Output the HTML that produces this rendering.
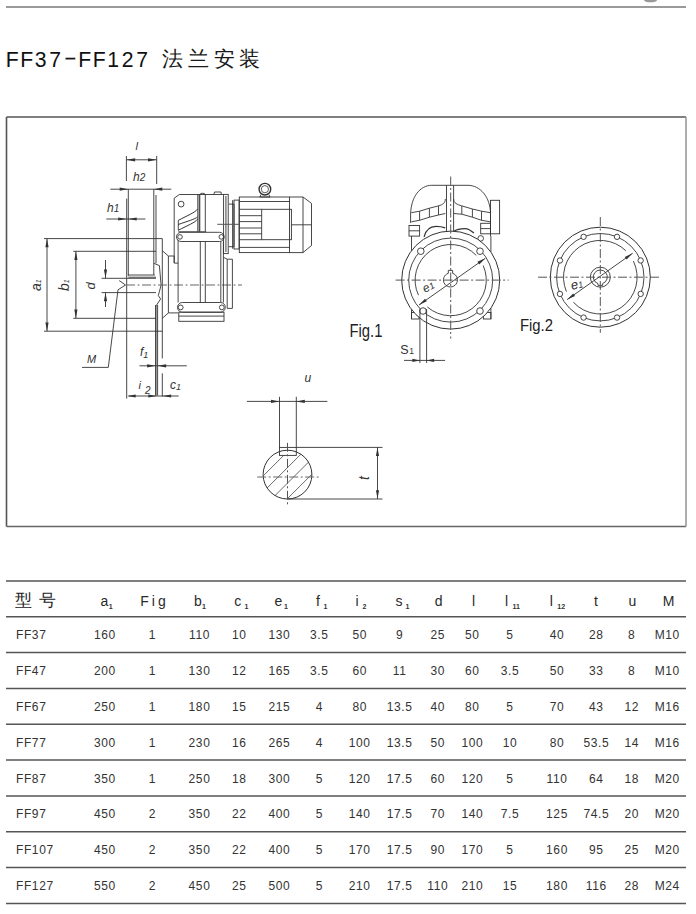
<!DOCTYPE html>
<html><head><meta charset="utf-8"><style>
html,body{margin:0;padding:0;background:#fff;width:696px;height:914px;overflow:hidden;}
svg{display:block;}
</style></head><body>
<svg width="696" height="914" viewBox="0 0 696 914">
<line x1="6" y1="7" x2="686" y2="7" stroke="#9a9a9a" stroke-width="1.8" />
<ellipse cx="650.5" cy="0" rx="6.5" ry="2.3" fill="#999"/>
<text x="5.8" y="66.8" font-family="Liberation Sans" font-size="21.2" fill="#111" text-anchor="start" >F</text>
<text x="20.3" y="66.8" font-family="Liberation Sans" font-size="21.2" fill="#111" text-anchor="start" >F</text>
<text x="34.800000000000004" y="66.8" font-family="Liberation Sans" font-size="21.2" fill="#111" text-anchor="start" >3</text>
<text x="49.300000000000004" y="66.8" font-family="Liberation Sans" font-size="21.2" fill="#111" text-anchor="start" >7</text>
<line x1="65.5" y1="58.6" x2="75.3" y2="58.6" stroke="#1a1a1a" stroke-width="1.8" />
<text x="78.3" y="66.8" font-family="Liberation Sans" font-size="21.2" fill="#111" text-anchor="start" >F</text>
<text x="92.8" y="66.8" font-family="Liberation Sans" font-size="21.2" fill="#111" text-anchor="start" >F</text>
<text x="107.3" y="66.8" font-family="Liberation Sans" font-size="21.2" fill="#111" text-anchor="start" >1</text>
<text x="121.8" y="66.8" font-family="Liberation Sans" font-size="21.2" fill="#111" text-anchor="start" >2</text>
<text x="136.29999999999998" y="66.8" font-family="Liberation Sans" font-size="21.2" fill="#111" text-anchor="start" >7</text>
<text x="162.1" y="66" font-family="Liberation Sans" font-size="21" fill="#1a1a1a" text-anchor="start" >法</text>
<text x="187.8" y="66" font-family="Liberation Sans" font-size="21" fill="#1a1a1a" text-anchor="start" >兰</text>
<text x="213.5" y="66" font-family="Liberation Sans" font-size="21" fill="#1a1a1a" text-anchor="start" >安</text>
<text x="239.2" y="66" font-family="Liberation Sans" font-size="21" fill="#1a1a1a" text-anchor="start" >装</text>
<line x1="6.5" y1="117" x2="686" y2="117" stroke="#555" stroke-width="1.6" />
<line x1="6.5" y1="117" x2="6.5" y2="526.5" stroke="#555" stroke-width="1.6" />
<line x1="6.5" y1="526.5" x2="686" y2="526.5" stroke="#666" stroke-width="1.6" />
<line x1="686" y1="117" x2="686" y2="526.5" stroke="#999" stroke-width="1.6" />
<text x="135.5" y="149.5" font-family="Liberation Sans" font-size="11" font-style="italic" fill="#333">l</text>
<line x1="126.4" y1="159.8" x2="156.7" y2="159.8" stroke="#333" stroke-width="0.9" />
<polygon points="126.60,159.80 135.10,158.20 135.10,161.40" fill="#333"/>
<polygon points="156.50,159.80 148.00,161.40 148.00,158.20" fill="#333"/>
<line x1="126.4" y1="156" x2="126.4" y2="181" stroke="#333" stroke-width="0.9" />
<line x1="156.7" y1="156" x2="156.7" y2="184" stroke="#333" stroke-width="0.9" />
<text x="133" y="180.5" font-family="Liberation Sans" font-size="12" font-style="italic" fill="#333">h<tspan font-size="10">2</tspan></text>
<line x1="110.3" y1="189.2" x2="171.3" y2="189.2" stroke="#333" stroke-width="0.9" />
<polygon points="128.20,189.20 119.70,190.80 119.70,187.60" fill="#333"/>
<polygon points="153.80,189.20 162.30,187.60 162.30,190.80" fill="#333"/>
<text x="107" y="211.5" font-family="Liberation Sans" font-size="12" font-style="italic" fill="#333">h<tspan font-size="10">1</tspan></text>
<line x1="106.3" y1="219" x2="145.4" y2="219" stroke="#333" stroke-width="0.9" />
<polygon points="126.70,219.00 118.20,220.60 118.20,217.40" fill="#333"/>
<polygon points="128.20,219.00 136.70,217.40 136.70,220.60" fill="#333"/>
<line x1="126.7" y1="198.6" x2="126.7" y2="398.6" stroke="#333" stroke-width="0.9" />
<line x1="128.3" y1="189.2" x2="128.3" y2="276" stroke="#333" stroke-width="0.9" />
<line x1="128.3" y1="275" x2="154.8" y2="275" stroke="#333" stroke-width="0.9" />
<line x1="128.3" y1="277.2" x2="156" y2="277.2" stroke="#333" stroke-width="0.9" />
<line x1="153.8" y1="189.2" x2="153.8" y2="275" stroke="#333" stroke-width="0.9" />
<line x1="156.0" y1="195" x2="156.0" y2="263.3" stroke="#333" stroke-width="0.9" />
<path d="M153.8,263.3 L159.4,265.6 L161.1,285.2 L158.3,295.5 L160.6,299 L156,305.9 L156,395.6" stroke="#333" stroke-width="0.9" fill="none" />
<line x1="155.6" y1="305" x2="155.6" y2="395.6" stroke="#333" stroke-width="0.9" />
<line x1="157.6" y1="305" x2="157.6" y2="395.6" stroke="#333" stroke-width="0.9" />
<line x1="162.3" y1="238.6" x2="162.3" y2="358.4" stroke="#333" stroke-width="0.9" />
<line x1="162.3" y1="373.4" x2="162.3" y2="396.6" stroke="#333" stroke-width="0.9" />
<line x1="44" y1="238.6" x2="162.3" y2="238.6" stroke="#333" stroke-width="0.9" />
<line x1="73.3" y1="251.3" x2="156" y2="251.3" stroke="#333" stroke-width="0.9" />
<line x1="101.6" y1="278.3" x2="156" y2="278.3" stroke="#333" stroke-width="0.9" />
<line x1="101.6" y1="292.6" x2="156" y2="292.6" stroke="#333" stroke-width="0.9" />
<line x1="73.3" y1="318.3" x2="156" y2="318.3" stroke="#333" stroke-width="0.9" />
<line x1="44" y1="331.2" x2="162.6" y2="331.2" stroke="#333" stroke-width="0.9" />
<line x1="47" y1="238.6" x2="47" y2="331.2" stroke="#333" stroke-width="0.9" />
<polygon points="47.00,238.80 48.60,247.30 45.40,247.30" fill="#333"/>
<polygon points="47.00,331.00 45.40,322.50 48.60,322.50" fill="#333"/>
<text transform="translate(40.8,291) rotate(-90)" font-family="Liberation Sans" font-size="14" font-style="italic" fill="#333">a<tspan font-size="7" dy="0">1</tspan></text>
<line x1="75.9" y1="251.3" x2="75.9" y2="318.3" stroke="#333" stroke-width="0.9" />
<polygon points="75.90,251.50 77.50,260.00 74.30,260.00" fill="#333"/>
<polygon points="75.90,318.10 74.30,309.60 77.50,309.60" fill="#333"/>
<text transform="translate(69.3,291) rotate(-90)" font-family="Liberation Sans" font-size="14" font-style="italic" fill="#333">b<tspan font-size="7">1</tspan></text>
<line x1="105.5" y1="260" x2="105.5" y2="278.3" stroke="#333" stroke-width="0.9" />
<line x1="105.5" y1="292.6" x2="105.5" y2="307" stroke="#333" stroke-width="0.9" />
<polygon points="105.50,278.10 103.90,269.60 107.10,269.60" fill="#333"/>
<polygon points="105.50,292.80 107.10,301.30 103.90,301.30" fill="#333"/>
<text transform="translate(94.5,289.5) rotate(-90)" font-family="Liberation Sans" font-size="13" font-style="italic" fill="#333">d</text>
<line x1="126" y1="285" x2="242" y2="285" stroke="#666" stroke-width="1" stroke-dasharray="9 2.5 2 2.5"/>
<polyline points="119.2,280.6 125.5,285 118,289.8 108.3,367.4 82,367.4" stroke="#333" stroke-width="0.9" fill="none"/>
<text x="87" y="362.5" font-family="Liberation Sans" font-size="11" font-style="italic" fill="#333">M</text>
<text x="140" y="356" font-family="Liberation Sans" font-size="12" font-style="italic" fill="#333">f<tspan font-size="9" dy="2">1</tspan></text>
<line x1="139.5" y1="365.8" x2="186.8" y2="365.8" stroke="#333" stroke-width="0.9" />
<polygon points="155.60,365.80 147.10,367.40 147.10,364.20" fill="#333"/>
<polygon points="157.60,365.80 166.10,364.20 166.10,367.40" fill="#333"/>
<text x="170" y="388.5" font-family="Liberation Sans" font-size="12" font-style="italic" fill="#333">c<tspan font-size="9" dy="1">1</tspan></text>
<text x="138.5" y="388.5" font-family="Liberation Sans" font-size="11" font-style="italic" fill="#333">i</text>
<text x="145" y="393.5" font-family="Liberation Sans" font-size="10" font-style="italic" fill="#333">2</text>
<line x1="128.4" y1="396" x2="178.7" y2="396" stroke="#333" stroke-width="0.9" />
<polygon points="127.20,396.00 135.70,394.40 135.70,397.60" fill="#333"/>
<polygon points="156.80,396.00 148.30,397.60 148.30,394.40" fill="#333"/>
<polygon points="162.60,396.00 171.10,394.40 171.10,397.60" fill="#333"/>
<polyline points="162.3,250.7 168.4,256 168.4,312.9 162.3,318.3" stroke="#333" stroke-width="0.9" fill="none"/>
<polyline points="168.4,256 174.2,256 174.2,263.1 178.1,263.1" stroke="#333" stroke-width="0.9" fill="none"/>
<line x1="168.4" y1="312.9" x2="178.1" y2="312.9" stroke="#333" stroke-width="0.9" />
<path d="M174.2,262.8 L174.2,198.2 L179.3,194.5 L223.6,194.5" stroke="#333" stroke-width="0.9" fill="none" />
<path d="M213.9,194.4 L214.5,192 L221,192 L221.3,194.4" stroke="#333" stroke-width="0.9" fill="none" />
<line x1="178.1" y1="240" x2="178.1" y2="302.5" stroke="#333" stroke-width="0.9" />
<line x1="197.8" y1="194.4" x2="197.8" y2="231.7" stroke="#333" stroke-width="0.9" />
<line x1="199.2" y1="194.4" x2="199.2" y2="231.7" stroke="#333" stroke-width="0.9" />
<path d="M199.8,231.7 L199.8,195 Q200,193.2 202.5,193.2 Q205.3,193.2 205.3,195 L205.3,231.7" stroke="#333" stroke-width="0.9" fill="none" />
<line x1="178.2" y1="231.8" x2="206.2" y2="231.8" stroke="#333" stroke-width="0.9" />
<circle cx="181.1" cy="204.1" r="2.9" stroke="#333" stroke-width="0.9" fill="none" />
<path d="M178.2,220.4 C188,215.31 195,212.49 197.6,209.1" stroke="#333" stroke-width="1" fill="none" />
<path d="M178.2,224.5 C188,221.08 195,219.18 197.6,216.9" stroke="#333" stroke-width="1" fill="none" />
<path d="M178.2,230.3 C188,225.31 195,222.53 197.6,219.2" stroke="#333" stroke-width="1" fill="none" />
<line x1="178.3" y1="220.4" x2="178.3" y2="230.3" stroke="#333" stroke-width="0.9" />
<rect x="176.5" y="232.3" width="47.7" height="9.2" rx="4.6" stroke="#333" stroke-width="0.9" fill="none"/>
<circle cx="180" cy="236.9" r="2.3" stroke="#333" stroke-width="0.9" fill="none" />
<circle cx="221.3" cy="236.9" r="2.3" stroke="#333" stroke-width="0.9" fill="none" />
<line x1="200.3" y1="241.5" x2="200.3" y2="302.5" stroke="#333" stroke-width="0.9" />
<line x1="205.3" y1="241.5" x2="205.3" y2="302.5" stroke="#333" stroke-width="0.9" />
<line x1="220.8" y1="241.5" x2="220.8" y2="302.5" stroke="#333" stroke-width="0.9" />
<line x1="223.4" y1="241.5" x2="223.4" y2="302.5" stroke="#333" stroke-width="0.9" />
<rect x="177.5" y="302.5" width="47.8" height="9.7" rx="4.8" stroke="#333" stroke-width="0.9" fill="none"/>
<circle cx="180.7" cy="307.4" r="2.4" stroke="#333" stroke-width="0.9" fill="none" />
<circle cx="221.8" cy="307.4" r="2.4" stroke="#333" stroke-width="0.9" fill="none" />
<rect x="178.8" y="312.2" width="45.2" height="9.1" rx="0" stroke="#333" stroke-width="0.9" fill="none"/>
<line x1="178.8" y1="316.1" x2="224" y2="316.1" stroke="#333" stroke-width="0.9" />
<rect x="223.6" y="194.4" width="4.6" height="59.2" rx="0" stroke="#333" stroke-width="0.9" fill="none"/>
<line x1="225.9" y1="196" x2="225.9" y2="252" stroke="#777" stroke-width="1.4" />
<polyline points="223.4,257.3 227.2,259.2 232.4,259.2 232.4,308.4 227.2,308.4 227.2,259.2" stroke="#333" stroke-width="0.9" fill="none"/>
<path d="M228.8,204.1 L234,204.1 L234,246.7 L228.8,246.7" stroke="#333" stroke-width="0.9" fill="none" />
<rect x="234" y="200.1" width="5.1" height="48.9" rx="0" stroke="#333" stroke-width="0.9" fill="none"/>
<line x1="232.6" y1="200.2" x2="232.6" y2="248.7" stroke="#333" stroke-width="0.9" />
<line x1="217.3" y1="224.3" x2="239.1" y2="224.3" stroke="#555" stroke-width="1" />
<rect x="239.3" y="197" width="50.2" height="55.6" rx="0" stroke="#333" stroke-width="0.9" fill="none"/>
<path d="M289.5,197 L303,197 L311.5,203.4 L311.5,245.5 L303,252.6 L289.5,252.6" stroke="#333" stroke-width="0.9" fill="none" />
<line x1="303" y1="197" x2="303" y2="252.6" stroke="#333" stroke-width="0.9" />
<line x1="291.4" y1="224.8" x2="311.5" y2="224.8" stroke="#333" stroke-width="0.9" />
<line x1="239.3" y1="201.5" x2="289.5" y2="201.5" stroke="#333" stroke-width="0.9" />
<line x1="239.3" y1="247.4" x2="289.5" y2="247.4" stroke="#333" stroke-width="0.9" />
<line x1="239.3" y1="215.7" x2="261.7" y2="215.7" stroke="#333" stroke-width="0.9" />
<line x1="239.3" y1="221.6" x2="261.7" y2="221.6" stroke="#333" stroke-width="0.9" />
<line x1="239.3" y1="228" x2="261.7" y2="228" stroke="#333" stroke-width="0.9" />
<line x1="239.3" y1="233.8" x2="261.7" y2="233.8" stroke="#333" stroke-width="0.9" />
<line x1="239.3" y1="209.3" x2="261.7" y2="209.3" stroke="#333" stroke-width="0.9" />
<line x1="239.3" y1="239.7" x2="261.7" y2="239.7" stroke="#333" stroke-width="0.9" />
<rect x="261.7" y="209.3" width="29.7" height="30.4" rx="0" stroke="#333" stroke-width="0.9" fill="none"/>
<circle cx="264.9" cy="189.2" r="5.8" stroke="#333" stroke-width="1.4" fill="none" />
<circle cx="264.9" cy="189.2" r="3.6" stroke="#333" stroke-width="0.8" fill="none" />
<path d="M261,194.5 L259.8,197 L270,197 L268.8,194.5" stroke="#333" stroke-width="0.9" fill="none" />
<path d="M410.6,223 L410.6,214 C411,197 420,185.3 431.7,185.3 L467.9,185.3 C480,185.3 490.5,197 490.5,214 L490.5,236" stroke="#333" stroke-width="0.9" fill="none" />
<rect x="490.5" y="200.3" width="9.1" height="33.5" rx="0" stroke="#333" stroke-width="0.9" fill="none"/>
<line x1="446.5" y1="185.3" x2="446.5" y2="231.6" stroke="#333" stroke-width="0.9" />
<line x1="453.6" y1="185.3" x2="453.6" y2="231.6" stroke="#333" stroke-width="0.9" />
<path d="M411.3,212.7 L419.6,211.2 L429.4,208.2 L438.5,205.9 C443,204.5 445.3,203 445.3,199" stroke="#333" stroke-width="0.9" fill="none" />
<path d="M411.3,221.8 L419.6,220.3 L429.4,217.2 L438.5,215 L445.3,213.5" stroke="#333" stroke-width="0.9" fill="none" />
<line x1="419.6" y1="211.2" x2="419.6" y2="220.3" stroke="#333" stroke-width="0.9" />
<line x1="429.4" y1="208.2" x2="429.4" y2="217.2" stroke="#333" stroke-width="0.9" />
<line x1="438.5" y1="205.9" x2="438.5" y2="215" stroke="#333" stroke-width="0.9" />
<path d="M490.5,212.7 L481.5,211.2 L472.4,209 L461.8,205.9 C457,204.5 453.6,203 453.6,199" stroke="#333" stroke-width="0.9" fill="none" />
<path d="M490.5,221.8 L481.5,220.3 L472.4,217.2 L461.8,214.2 L453.6,213.5" stroke="#333" stroke-width="0.9" fill="none" />
<line x1="481.5" y1="211.2" x2="481.5" y2="220.3" stroke="#333" stroke-width="0.9" />
<line x1="472.4" y1="209" x2="472.4" y2="217.2" stroke="#333" stroke-width="0.9" />
<line x1="461.8" y1="205.9" x2="461.8" y2="214.2" stroke="#333" stroke-width="0.9" />
<rect x="409" y="225.5" width="10.6" height="10.6" rx="0" stroke="#333" stroke-width="0.9" fill="none"/>
<line x1="409" y1="230.8" x2="419.6" y2="230.8" stroke="#333" stroke-width="0.9" />
<rect x="480.7" y="223.3" width="9.8" height="10.5" rx="0" stroke="#333" stroke-width="0.9" fill="none"/>
<line x1="480.7" y1="228.6" x2="490.5" y2="228.6" stroke="#333" stroke-width="0.9" />
<path d="M424.1,236.8 C426,229 431,226.3 436,226.3 C441,226.3 445.3,227.8 445.3,227.8" stroke="#333" stroke-width="1.3" fill="none" />
<path d="M453.6,231.6 C457,229 461,228.6 465,228.6 C469,228.6 473.9,233.1 473.9,233.1" stroke="#333" stroke-width="1.3" fill="none" />
<circle cx="480.7" cy="238.4" r="2.8" stroke="#333" stroke-width="0.9" fill="none" />
<line x1="411.5" y1="236" x2="411.5" y2="252" stroke="#333" stroke-width="0.9" />
<line x1="490.9" y1="236" x2="490.9" y2="252" stroke="#333" stroke-width="0.9" />
<line x1="411.5" y1="308" x2="411.5" y2="319" stroke="#333" stroke-width="0.9" />
<line x1="490.9" y1="308" x2="490.9" y2="319" stroke="#333" stroke-width="0.9" />
<rect x="411.5" y="312.5" width="7.5" height="6.5" rx="0" stroke="#333" stroke-width="0.9" fill="none"/>
<rect x="483.4" y="312.5" width="7.5" height="6.5" rx="0" stroke="#333" stroke-width="0.9" fill="none"/>
<circle cx="450.7" cy="280.1" r="49" stroke="#333" stroke-width="1" fill="#fff" />
<circle cx="450.7" cy="280.1" r="42" stroke="#333" stroke-width="0.9" fill="none" />
<path d="M476.31,255.37 A35.6,35.6 0 0 0 418.44,295.15" stroke="#333" stroke-width="0.9" fill="none" />
<path d="M427.34,306.97 A35.6,35.6 0 0 0 483.22,265.62" stroke="#333" stroke-width="0.9" fill="none" />
<circle cx="420.8" cy="251.2" r="3.3" stroke="#333" stroke-width="0.9" fill="#fff" />
<circle cx="480" cy="251.2" r="3.3" stroke="#333" stroke-width="0.9" fill="#fff" />
<circle cx="423" cy="311" r="3.3" stroke="#333" stroke-width="0.9" fill="#fff" />
<circle cx="480" cy="311" r="3.3" stroke="#333" stroke-width="0.9" fill="#fff" />
<path d="M448.3,273.3 L448.3,270.4 L452.6,270.4 L452.6,273.3 A7,7 0 1 1 448.3,273.3" stroke="#333" stroke-width="0.9" fill="none" />
<line x1="395.6" y1="280.1" x2="508.6" y2="280.1" stroke="#555" stroke-width="1" stroke-dasharray="9 2.5 2 2.5"/>
<line x1="450.7" y1="176.5" x2="450.7" y2="338.6" stroke="#555" stroke-width="1" stroke-dasharray="9 2.5 2 2.5"/>
<line x1="419" y1="305" x2="485.3" y2="258.3" stroke="#333" stroke-width="0.9" />
<polygon points="419.00,305.00 424.99,298.76 426.85,301.36" fill="#333"/>
<polygon points="485.30,258.30 479.25,264.48 477.42,261.86" fill="#333"/>
<text transform="translate(425,293) rotate(-28)" font-family="Liberation Sans" font-size="12" font-style="italic" fill="#333">e<tspan font-size="9">1</tspan></text>
<line x1="419.9" y1="309" x2="419.9" y2="363" stroke="#333" stroke-width="0.9" />
<line x1="426.6" y1="309" x2="426.6" y2="363" stroke="#333" stroke-width="0.9" />
<line x1="404" y1="360.4" x2="445.1" y2="360.4" stroke="#333" stroke-width="0.9" />
<polygon points="419.90,360.40 412.40,362.00 412.40,358.80" fill="#333"/>
<polygon points="426.60,360.40 434.10,358.80 434.10,362.00" fill="#333"/>
<text x="400.3" y="354" font-family="Liberation Sans" font-size="12.5" fill="#333">S<tspan font-size="8.5" dx="0.5">1</tspan></text>
<text x="349.5" y="337.3" font-family="Liberation Sans" font-size="17.5" fill="#222" textLength="33" lengthAdjust="spacingAndGlyphs">Fig.1</text>
<circle cx="600.3" cy="277.2" r="50" stroke="#333" stroke-width="1" fill="none" />
<circle cx="600.3" cy="277.2" r="43.7" stroke="#333" stroke-width="0.9" fill="none" />
<path d="M625.86,250.73 A36.8,36.8 0 0 0 566.43,291.58" stroke="#333" stroke-width="0.9" fill="none" />
<path d="M573.39,302.30 A36.8,36.8 0 0 0 633.38,261.07" stroke="#333" stroke-width="0.9" fill="none" />
<circle cx="640.67" cy="293.92" r="2.7" stroke="#333" stroke-width="0.9" fill="#fff" />
<circle cx="617.02" cy="317.57" r="2.7" stroke="#333" stroke-width="0.9" fill="#fff" />
<circle cx="583.58" cy="317.57" r="2.7" stroke="#333" stroke-width="0.9" fill="#fff" />
<circle cx="559.93" cy="293.92" r="2.7" stroke="#333" stroke-width="0.9" fill="#fff" />
<circle cx="559.93" cy="260.48" r="2.7" stroke="#333" stroke-width="0.9" fill="#fff" />
<circle cx="583.58" cy="236.83" r="2.7" stroke="#333" stroke-width="0.9" fill="#fff" />
<circle cx="617.02" cy="236.83" r="2.7" stroke="#333" stroke-width="0.9" fill="#fff" />
<circle cx="640.67" cy="260.48" r="2.7" stroke="#333" stroke-width="0.9" fill="#fff" />
<circle cx="600.3" cy="277.2" r="10" stroke="#333" stroke-width="0.9" fill="none" />
<path d="M598,283.6 L598,285.4 L602.6,285.4 L602.6,283.6 A7,7 0 1 0 598,283.6" stroke="#333" stroke-width="0.9" fill="none" />
<line x1="538" y1="277.2" x2="660.8" y2="277.2" stroke="#555" stroke-width="1" stroke-dasharray="9 2.5 2 2.5"/>
<line x1="600.3" y1="217" x2="600.3" y2="332.8" stroke="#555" stroke-width="1" stroke-dasharray="9 2.5 2 2.5"/>
<line x1="567.2" y1="299.6" x2="632.6" y2="253.3" stroke="#333" stroke-width="0.9" />
<polygon points="567.20,299.60 573.22,293.39 575.07,296.00" fill="#333"/>
<polygon points="632.60,253.30 626.59,259.52 624.74,256.91" fill="#333"/>
<text transform="translate(572,290) rotate(-15)" font-family="Liberation Sans" font-size="13" font-style="italic" fill="#333">e<tspan font-size="9">1</tspan></text>
<text x="520" y="331" font-family="Liberation Sans" font-size="17" fill="#222" textLength="33" lengthAdjust="spacingAndGlyphs">Fig.2</text>
<clipPath id="sc"><circle cx="287.5" cy="474.6" r="24.4"/></clipPath>
<g clip-path="url(#sc)"><line x1="224.5" y1="514.6" x2="304.5" y2="434.6" stroke="#444" stroke-width="0.8"/><line x1="240.5" y1="514.6" x2="320.5" y2="434.6" stroke="#444" stroke-width="0.8"/><line x1="256.0" y1="514.6" x2="336.0" y2="434.6" stroke="#444" stroke-width="0.8"/><line x1="271.5" y1="514.6" x2="351.5" y2="434.6" stroke="#444" stroke-width="0.8"/></g>
<rect x="279.5" y="447.4" width="16.8" height="8" fill="#fff"/>
<circle cx="287.5" cy="474.6" r="24.4" stroke="#333" stroke-width="1" fill="none" />
<rect x="279.5" y="447.4" width="16.8" height="8" rx="0" stroke="#333" stroke-width="0.9" fill="none"/>
<line x1="279.5" y1="396.8" x2="279.5" y2="447.4" stroke="#333" stroke-width="0.9" />
<line x1="296.3" y1="396.8" x2="296.3" y2="447.4" stroke="#333" stroke-width="0.9" />
<line x1="246.9" y1="401.4" x2="327.4" y2="401.4" stroke="#333" stroke-width="0.9" />
<polygon points="279.50,401.40 271.00,403.00 271.00,399.80" fill="#333"/>
<polygon points="296.30,401.40 304.80,399.80 304.80,403.00" fill="#333"/>
<text x="304.5" y="382" font-family="Liberation Sans" font-size="12" font-style="italic" fill="#333">u</text>
<line x1="296.3" y1="447.4" x2="382.5" y2="447.4" stroke="#333" stroke-width="0.9" />
<line x1="288" y1="499" x2="382.5" y2="499" stroke="#333" stroke-width="0.9" />
<line x1="377.5" y1="447.4" x2="377.5" y2="499" stroke="#333" stroke-width="0.9" />
<polygon points="377.50,447.60 379.10,456.10 375.90,456.10" fill="#333"/>
<polygon points="377.50,498.80 375.90,490.30 379.10,490.30" fill="#333"/>
<text transform="translate(368.5,480) rotate(-90)" font-family="Liberation Sans" font-size="14" font-style="italic" fill="#333">t</text>
<line x1="257.2" y1="477" x2="319.3" y2="477" stroke="#666" stroke-width="1" stroke-dasharray="9 2.5 2 2.5"/>
<line x1="287.5" y1="442.8" x2="287.5" y2="504.8" stroke="#555" stroke-width="1" stroke-dasharray="9 2.5 2 2.5"/>
<line x1="6" y1="581.0" x2="686" y2="581.0" stroke="#555" stroke-width="1.5" />
<line x1="6" y1="616.8" x2="686" y2="616.8" stroke="#555" stroke-width="1.5" />
<line x1="6" y1="652.6" x2="686" y2="652.6" stroke="#555" stroke-width="1.5" />
<line x1="6" y1="688.5" x2="686" y2="688.5" stroke="#555" stroke-width="1.5" />
<line x1="6" y1="724.3" x2="686" y2="724.3" stroke="#555" stroke-width="1.5" />
<line x1="6" y1="760.1" x2="686" y2="760.1" stroke="#555" stroke-width="1.5" />
<line x1="6" y1="795.9" x2="686" y2="795.9" stroke="#555" stroke-width="1.5" />
<line x1="6" y1="831.7" x2="686" y2="831.7" stroke="#555" stroke-width="1.5" />
<line x1="6" y1="867.6" x2="686" y2="867.6" stroke="#555" stroke-width="1.5" />
<line x1="6" y1="903.4" x2="686" y2="903.4" stroke="#555" stroke-width="1.5" />
<text x="16" y="639.3" font-family="Liberation Sans" font-size="12" fill="#333" text-anchor="start" letter-spacing="0.6">FF37</text>
<text x="104.89999999999999" y="639.3" font-family="Liberation Sans" font-size="12" fill="#333" text-anchor="middle" letter-spacing="0.6">160</text>
<text x="152.3" y="639.3" font-family="Liberation Sans" font-size="12" fill="#333" text-anchor="middle" letter-spacing="0.6">1</text>
<text x="199.5" y="639.3" font-family="Liberation Sans" font-size="12" fill="#333" text-anchor="middle" letter-spacing="0.6">110</text>
<text x="239.3" y="639.3" font-family="Liberation Sans" font-size="12" fill="#333" text-anchor="middle" letter-spacing="0.6">10</text>
<text x="279.3" y="639.3" font-family="Liberation Sans" font-size="12" fill="#333" text-anchor="middle" letter-spacing="0.6">130</text>
<text x="319.3" y="639.3" font-family="Liberation Sans" font-size="12" fill="#333" text-anchor="middle" letter-spacing="0.6">3.5</text>
<text x="359.7" y="639.3" font-family="Liberation Sans" font-size="12" fill="#333" text-anchor="middle" letter-spacing="0.6">50</text>
<text x="399.7" y="639.3" font-family="Liberation Sans" font-size="12" fill="#333" text-anchor="middle" letter-spacing="0.6">9</text>
<text x="437.8" y="639.3" font-family="Liberation Sans" font-size="12" fill="#333" text-anchor="middle" letter-spacing="0.6">25</text>
<text x="472.3" y="639.3" font-family="Liberation Sans" font-size="12" fill="#333" text-anchor="middle" letter-spacing="0.6">50</text>
<text x="510.0" y="639.3" font-family="Liberation Sans" font-size="12" fill="#333" text-anchor="middle" letter-spacing="0.6">5</text>
<text x="557.0" y="639.3" font-family="Liberation Sans" font-size="12" fill="#333" text-anchor="middle" letter-spacing="0.6">40</text>
<text x="596.3" y="639.3" font-family="Liberation Sans" font-size="12" fill="#333" text-anchor="middle" letter-spacing="0.6">28</text>
<text x="631.6999999999999" y="639.3" font-family="Liberation Sans" font-size="12" fill="#333" text-anchor="middle" letter-spacing="0.6">8</text>
<text x="667.3" y="639.3" font-family="Liberation Sans" font-size="12" fill="#333" text-anchor="middle" letter-spacing="0.6">M10</text>
<text x="16" y="675.1" font-family="Liberation Sans" font-size="12" fill="#333" text-anchor="start" letter-spacing="0.6">FF47</text>
<text x="104.89999999999999" y="675.1" font-family="Liberation Sans" font-size="12" fill="#333" text-anchor="middle" letter-spacing="0.6">200</text>
<text x="152.3" y="675.1" font-family="Liberation Sans" font-size="12" fill="#333" text-anchor="middle" letter-spacing="0.6">1</text>
<text x="199.5" y="675.1" font-family="Liberation Sans" font-size="12" fill="#333" text-anchor="middle" letter-spacing="0.6">130</text>
<text x="239.3" y="675.1" font-family="Liberation Sans" font-size="12" fill="#333" text-anchor="middle" letter-spacing="0.6">12</text>
<text x="279.3" y="675.1" font-family="Liberation Sans" font-size="12" fill="#333" text-anchor="middle" letter-spacing="0.6">165</text>
<text x="319.3" y="675.1" font-family="Liberation Sans" font-size="12" fill="#333" text-anchor="middle" letter-spacing="0.6">3.5</text>
<text x="359.7" y="675.1" font-family="Liberation Sans" font-size="12" fill="#333" text-anchor="middle" letter-spacing="0.6">60</text>
<text x="399.7" y="675.1" font-family="Liberation Sans" font-size="12" fill="#333" text-anchor="middle" letter-spacing="0.6">11</text>
<text x="437.8" y="675.1" font-family="Liberation Sans" font-size="12" fill="#333" text-anchor="middle" letter-spacing="0.6">30</text>
<text x="472.3" y="675.1" font-family="Liberation Sans" font-size="12" fill="#333" text-anchor="middle" letter-spacing="0.6">60</text>
<text x="510.0" y="675.1" font-family="Liberation Sans" font-size="12" fill="#333" text-anchor="middle" letter-spacing="0.6">3.5</text>
<text x="557.0" y="675.1" font-family="Liberation Sans" font-size="12" fill="#333" text-anchor="middle" letter-spacing="0.6">50</text>
<text x="596.3" y="675.1" font-family="Liberation Sans" font-size="12" fill="#333" text-anchor="middle" letter-spacing="0.6">33</text>
<text x="631.6999999999999" y="675.1" font-family="Liberation Sans" font-size="12" fill="#333" text-anchor="middle" letter-spacing="0.6">8</text>
<text x="667.3" y="675.1" font-family="Liberation Sans" font-size="12" fill="#333" text-anchor="middle" letter-spacing="0.6">M10</text>
<text x="16" y="711.0" font-family="Liberation Sans" font-size="12" fill="#333" text-anchor="start" letter-spacing="0.6">FF67</text>
<text x="104.89999999999999" y="711.0" font-family="Liberation Sans" font-size="12" fill="#333" text-anchor="middle" letter-spacing="0.6">250</text>
<text x="152.3" y="711.0" font-family="Liberation Sans" font-size="12" fill="#333" text-anchor="middle" letter-spacing="0.6">1</text>
<text x="199.5" y="711.0" font-family="Liberation Sans" font-size="12" fill="#333" text-anchor="middle" letter-spacing="0.6">180</text>
<text x="239.3" y="711.0" font-family="Liberation Sans" font-size="12" fill="#333" text-anchor="middle" letter-spacing="0.6">15</text>
<text x="279.3" y="711.0" font-family="Liberation Sans" font-size="12" fill="#333" text-anchor="middle" letter-spacing="0.6">215</text>
<text x="319.3" y="711.0" font-family="Liberation Sans" font-size="12" fill="#333" text-anchor="middle" letter-spacing="0.6">4</text>
<text x="359.7" y="711.0" font-family="Liberation Sans" font-size="12" fill="#333" text-anchor="middle" letter-spacing="0.6">80</text>
<text x="399.7" y="711.0" font-family="Liberation Sans" font-size="12" fill="#333" text-anchor="middle" letter-spacing="0.6">13.5</text>
<text x="437.8" y="711.0" font-family="Liberation Sans" font-size="12" fill="#333" text-anchor="middle" letter-spacing="0.6">40</text>
<text x="472.3" y="711.0" font-family="Liberation Sans" font-size="12" fill="#333" text-anchor="middle" letter-spacing="0.6">80</text>
<text x="510.0" y="711.0" font-family="Liberation Sans" font-size="12" fill="#333" text-anchor="middle" letter-spacing="0.6">5</text>
<text x="557.0" y="711.0" font-family="Liberation Sans" font-size="12" fill="#333" text-anchor="middle" letter-spacing="0.6">70</text>
<text x="596.3" y="711.0" font-family="Liberation Sans" font-size="12" fill="#333" text-anchor="middle" letter-spacing="0.6">43</text>
<text x="631.6999999999999" y="711.0" font-family="Liberation Sans" font-size="12" fill="#333" text-anchor="middle" letter-spacing="0.6">12</text>
<text x="667.3" y="711.0" font-family="Liberation Sans" font-size="12" fill="#333" text-anchor="middle" letter-spacing="0.6">M16</text>
<text x="16" y="746.8" font-family="Liberation Sans" font-size="12" fill="#333" text-anchor="start" letter-spacing="0.6">FF77</text>
<text x="104.89999999999999" y="746.8" font-family="Liberation Sans" font-size="12" fill="#333" text-anchor="middle" letter-spacing="0.6">300</text>
<text x="152.3" y="746.8" font-family="Liberation Sans" font-size="12" fill="#333" text-anchor="middle" letter-spacing="0.6">1</text>
<text x="199.5" y="746.8" font-family="Liberation Sans" font-size="12" fill="#333" text-anchor="middle" letter-spacing="0.6">230</text>
<text x="239.3" y="746.8" font-family="Liberation Sans" font-size="12" fill="#333" text-anchor="middle" letter-spacing="0.6">16</text>
<text x="279.3" y="746.8" font-family="Liberation Sans" font-size="12" fill="#333" text-anchor="middle" letter-spacing="0.6">265</text>
<text x="319.3" y="746.8" font-family="Liberation Sans" font-size="12" fill="#333" text-anchor="middle" letter-spacing="0.6">4</text>
<text x="359.7" y="746.8" font-family="Liberation Sans" font-size="12" fill="#333" text-anchor="middle" letter-spacing="0.6">100</text>
<text x="399.7" y="746.8" font-family="Liberation Sans" font-size="12" fill="#333" text-anchor="middle" letter-spacing="0.6">13.5</text>
<text x="437.8" y="746.8" font-family="Liberation Sans" font-size="12" fill="#333" text-anchor="middle" letter-spacing="0.6">50</text>
<text x="472.3" y="746.8" font-family="Liberation Sans" font-size="12" fill="#333" text-anchor="middle" letter-spacing="0.6">100</text>
<text x="510.0" y="746.8" font-family="Liberation Sans" font-size="12" fill="#333" text-anchor="middle" letter-spacing="0.6">10</text>
<text x="557.0" y="746.8" font-family="Liberation Sans" font-size="12" fill="#333" text-anchor="middle" letter-spacing="0.6">80</text>
<text x="596.3" y="746.8" font-family="Liberation Sans" font-size="12" fill="#333" text-anchor="middle" letter-spacing="0.6">53.5</text>
<text x="631.6999999999999" y="746.8" font-family="Liberation Sans" font-size="12" fill="#333" text-anchor="middle" letter-spacing="0.6">14</text>
<text x="667.3" y="746.8" font-family="Liberation Sans" font-size="12" fill="#333" text-anchor="middle" letter-spacing="0.6">M16</text>
<text x="16" y="782.6" font-family="Liberation Sans" font-size="12" fill="#333" text-anchor="start" letter-spacing="0.6">FF87</text>
<text x="104.89999999999999" y="782.6" font-family="Liberation Sans" font-size="12" fill="#333" text-anchor="middle" letter-spacing="0.6">350</text>
<text x="152.3" y="782.6" font-family="Liberation Sans" font-size="12" fill="#333" text-anchor="middle" letter-spacing="0.6">1</text>
<text x="199.5" y="782.6" font-family="Liberation Sans" font-size="12" fill="#333" text-anchor="middle" letter-spacing="0.6">250</text>
<text x="239.3" y="782.6" font-family="Liberation Sans" font-size="12" fill="#333" text-anchor="middle" letter-spacing="0.6">18</text>
<text x="279.3" y="782.6" font-family="Liberation Sans" font-size="12" fill="#333" text-anchor="middle" letter-spacing="0.6">300</text>
<text x="319.3" y="782.6" font-family="Liberation Sans" font-size="12" fill="#333" text-anchor="middle" letter-spacing="0.6">5</text>
<text x="359.7" y="782.6" font-family="Liberation Sans" font-size="12" fill="#333" text-anchor="middle" letter-spacing="0.6">120</text>
<text x="399.7" y="782.6" font-family="Liberation Sans" font-size="12" fill="#333" text-anchor="middle" letter-spacing="0.6">17.5</text>
<text x="437.8" y="782.6" font-family="Liberation Sans" font-size="12" fill="#333" text-anchor="middle" letter-spacing="0.6">60</text>
<text x="472.3" y="782.6" font-family="Liberation Sans" font-size="12" fill="#333" text-anchor="middle" letter-spacing="0.6">120</text>
<text x="510.0" y="782.6" font-family="Liberation Sans" font-size="12" fill="#333" text-anchor="middle" letter-spacing="0.6">5</text>
<text x="557.0" y="782.6" font-family="Liberation Sans" font-size="12" fill="#333" text-anchor="middle" letter-spacing="0.6">110</text>
<text x="596.3" y="782.6" font-family="Liberation Sans" font-size="12" fill="#333" text-anchor="middle" letter-spacing="0.6">64</text>
<text x="631.6999999999999" y="782.6" font-family="Liberation Sans" font-size="12" fill="#333" text-anchor="middle" letter-spacing="0.6">18</text>
<text x="667.3" y="782.6" font-family="Liberation Sans" font-size="12" fill="#333" text-anchor="middle" letter-spacing="0.6">M20</text>
<text x="16" y="818.4" font-family="Liberation Sans" font-size="12" fill="#333" text-anchor="start" letter-spacing="0.6">FF97</text>
<text x="104.89999999999999" y="818.4" font-family="Liberation Sans" font-size="12" fill="#333" text-anchor="middle" letter-spacing="0.6">450</text>
<text x="152.3" y="818.4" font-family="Liberation Sans" font-size="12" fill="#333" text-anchor="middle" letter-spacing="0.6">2</text>
<text x="199.5" y="818.4" font-family="Liberation Sans" font-size="12" fill="#333" text-anchor="middle" letter-spacing="0.6">350</text>
<text x="239.3" y="818.4" font-family="Liberation Sans" font-size="12" fill="#333" text-anchor="middle" letter-spacing="0.6">22</text>
<text x="279.3" y="818.4" font-family="Liberation Sans" font-size="12" fill="#333" text-anchor="middle" letter-spacing="0.6">400</text>
<text x="319.3" y="818.4" font-family="Liberation Sans" font-size="12" fill="#333" text-anchor="middle" letter-spacing="0.6">5</text>
<text x="359.7" y="818.4" font-family="Liberation Sans" font-size="12" fill="#333" text-anchor="middle" letter-spacing="0.6">140</text>
<text x="399.7" y="818.4" font-family="Liberation Sans" font-size="12" fill="#333" text-anchor="middle" letter-spacing="0.6">17.5</text>
<text x="437.8" y="818.4" font-family="Liberation Sans" font-size="12" fill="#333" text-anchor="middle" letter-spacing="0.6">70</text>
<text x="472.3" y="818.4" font-family="Liberation Sans" font-size="12" fill="#333" text-anchor="middle" letter-spacing="0.6">140</text>
<text x="510.0" y="818.4" font-family="Liberation Sans" font-size="12" fill="#333" text-anchor="middle" letter-spacing="0.6">7.5</text>
<text x="557.0" y="818.4" font-family="Liberation Sans" font-size="12" fill="#333" text-anchor="middle" letter-spacing="0.6">125</text>
<text x="596.3" y="818.4" font-family="Liberation Sans" font-size="12" fill="#333" text-anchor="middle" letter-spacing="0.6">74.5</text>
<text x="631.6999999999999" y="818.4" font-family="Liberation Sans" font-size="12" fill="#333" text-anchor="middle" letter-spacing="0.6">20</text>
<text x="667.3" y="818.4" font-family="Liberation Sans" font-size="12" fill="#333" text-anchor="middle" letter-spacing="0.6">M20</text>
<text x="16" y="854.2" font-family="Liberation Sans" font-size="12" fill="#333" text-anchor="start" letter-spacing="0.6">FF107</text>
<text x="104.89999999999999" y="854.2" font-family="Liberation Sans" font-size="12" fill="#333" text-anchor="middle" letter-spacing="0.6">450</text>
<text x="152.3" y="854.2" font-family="Liberation Sans" font-size="12" fill="#333" text-anchor="middle" letter-spacing="0.6">2</text>
<text x="199.5" y="854.2" font-family="Liberation Sans" font-size="12" fill="#333" text-anchor="middle" letter-spacing="0.6">350</text>
<text x="239.3" y="854.2" font-family="Liberation Sans" font-size="12" fill="#333" text-anchor="middle" letter-spacing="0.6">22</text>
<text x="279.3" y="854.2" font-family="Liberation Sans" font-size="12" fill="#333" text-anchor="middle" letter-spacing="0.6">400</text>
<text x="319.3" y="854.2" font-family="Liberation Sans" font-size="12" fill="#333" text-anchor="middle" letter-spacing="0.6">5</text>
<text x="359.7" y="854.2" font-family="Liberation Sans" font-size="12" fill="#333" text-anchor="middle" letter-spacing="0.6">170</text>
<text x="399.7" y="854.2" font-family="Liberation Sans" font-size="12" fill="#333" text-anchor="middle" letter-spacing="0.6">17.5</text>
<text x="437.8" y="854.2" font-family="Liberation Sans" font-size="12" fill="#333" text-anchor="middle" letter-spacing="0.6">90</text>
<text x="472.3" y="854.2" font-family="Liberation Sans" font-size="12" fill="#333" text-anchor="middle" letter-spacing="0.6">170</text>
<text x="510.0" y="854.2" font-family="Liberation Sans" font-size="12" fill="#333" text-anchor="middle" letter-spacing="0.6">5</text>
<text x="557.0" y="854.2" font-family="Liberation Sans" font-size="12" fill="#333" text-anchor="middle" letter-spacing="0.6">160</text>
<text x="596.3" y="854.2" font-family="Liberation Sans" font-size="12" fill="#333" text-anchor="middle" letter-spacing="0.6">95</text>
<text x="631.6999999999999" y="854.2" font-family="Liberation Sans" font-size="12" fill="#333" text-anchor="middle" letter-spacing="0.6">25</text>
<text x="667.3" y="854.2" font-family="Liberation Sans" font-size="12" fill="#333" text-anchor="middle" letter-spacing="0.6">M20</text>
<text x="16" y="890.1" font-family="Liberation Sans" font-size="12" fill="#333" text-anchor="start" letter-spacing="0.6">FF127</text>
<text x="104.89999999999999" y="890.1" font-family="Liberation Sans" font-size="12" fill="#333" text-anchor="middle" letter-spacing="0.6">550</text>
<text x="152.3" y="890.1" font-family="Liberation Sans" font-size="12" fill="#333" text-anchor="middle" letter-spacing="0.6">2</text>
<text x="199.5" y="890.1" font-family="Liberation Sans" font-size="12" fill="#333" text-anchor="middle" letter-spacing="0.6">450</text>
<text x="239.3" y="890.1" font-family="Liberation Sans" font-size="12" fill="#333" text-anchor="middle" letter-spacing="0.6">25</text>
<text x="279.3" y="890.1" font-family="Liberation Sans" font-size="12" fill="#333" text-anchor="middle" letter-spacing="0.6">500</text>
<text x="319.3" y="890.1" font-family="Liberation Sans" font-size="12" fill="#333" text-anchor="middle" letter-spacing="0.6">5</text>
<text x="359.7" y="890.1" font-family="Liberation Sans" font-size="12" fill="#333" text-anchor="middle" letter-spacing="0.6">210</text>
<text x="399.7" y="890.1" font-family="Liberation Sans" font-size="12" fill="#333" text-anchor="middle" letter-spacing="0.6">17.5</text>
<text x="437.8" y="890.1" font-family="Liberation Sans" font-size="12" fill="#333" text-anchor="middle" letter-spacing="0.6">110</text>
<text x="472.3" y="890.1" font-family="Liberation Sans" font-size="12" fill="#333" text-anchor="middle" letter-spacing="0.6">210</text>
<text x="510.0" y="890.1" font-family="Liberation Sans" font-size="12" fill="#333" text-anchor="middle" letter-spacing="0.6">15</text>
<text x="557.0" y="890.1" font-family="Liberation Sans" font-size="12" fill="#333" text-anchor="middle" letter-spacing="0.6">180</text>
<text x="596.3" y="890.1" font-family="Liberation Sans" font-size="12" fill="#333" text-anchor="middle" letter-spacing="0.6">116</text>
<text x="631.6999999999999" y="890.1" font-family="Liberation Sans" font-size="12" fill="#333" text-anchor="middle" letter-spacing="0.6">28</text>
<text x="667.3" y="890.1" font-family="Liberation Sans" font-size="12" fill="#333" text-anchor="middle" letter-spacing="0.6">M24</text>
<text x="14.5" y="606" font-family="Liberation Sans" font-size="17" fill="#222" text-anchor="start" >型</text>
<text x="39" y="606" font-family="Liberation Sans" font-size="17" fill="#222" text-anchor="start" >号</text>
<text x="104.5" y="606" font-family="Liberation Sans" font-size="14" fill="#2a2a2a" text-anchor="middle">a</text>
<text x="108.8" y="609" font-family="Liberation Sans" font-size="7" font-weight="bold" fill="#333">1</text>
<text x="140.2" y="606" font-family="Liberation Sans" font-size="14" fill="#2a2a2a" textLength="25.5" lengthAdjust="spacing">Fig</text>
<text x="198" y="606" font-family="Liberation Sans" font-size="14" fill="#2a2a2a" text-anchor="middle">b</text>
<text x="202" y="609" font-family="Liberation Sans" font-size="7" font-weight="bold" fill="#333">1</text>
<text x="237.7" y="606" font-family="Liberation Sans" font-size="14" fill="#2a2a2a" text-anchor="middle">c</text>
<text x="244.5" y="609" font-family="Liberation Sans" font-size="7" font-weight="bold" fill="#333">1</text>
<text x="278.3" y="606" font-family="Liberation Sans" font-size="14" fill="#2a2a2a" text-anchor="middle">e</text>
<text x="284" y="609" font-family="Liberation Sans" font-size="7" font-weight="bold" fill="#333">1</text>
<text x="318" y="606" font-family="Liberation Sans" font-size="14" fill="#2a2a2a" text-anchor="middle">f</text>
<text x="323.5" y="609" font-family="Liberation Sans" font-size="7" font-weight="bold" fill="#333">1</text>
<text x="357" y="606" font-family="Liberation Sans" font-size="14" fill="#2a2a2a" text-anchor="middle">i</text>
<text x="362.5" y="609" font-family="Liberation Sans" font-size="7" font-weight="bold" fill="#333">2</text>
<text x="399" y="606" font-family="Liberation Sans" font-size="14" fill="#2a2a2a" text-anchor="middle">s</text>
<text x="405.5" y="609" font-family="Liberation Sans" font-size="7" font-weight="bold" fill="#333">1</text>
<text x="438.7" y="606" font-family="Liberation Sans" font-size="14" fill="#2a2a2a" text-anchor="middle">d</text>
<text x="473.5" y="606" font-family="Liberation Sans" font-size="14" fill="#2a2a2a" text-anchor="middle">l</text>
<text x="506.5" y="606" font-family="Liberation Sans" font-size="14" fill="#2a2a2a" text-anchor="middle">l</text>
<text x="512.5" y="609" font-family="Liberation Sans" font-size="7" font-weight="bold" fill="#333">11</text>
<text x="551.2" y="606" font-family="Liberation Sans" font-size="14" fill="#2a2a2a" text-anchor="middle">l</text>
<text x="557.3" y="609" font-family="Liberation Sans" font-size="7" font-weight="bold" fill="#333">12</text>
<text x="596" y="606" font-family="Liberation Sans" font-size="14" fill="#2a2a2a" text-anchor="middle">t</text>
<text x="632.5" y="606" font-family="Liberation Sans" font-size="14" fill="#2a2a2a" text-anchor="middle">u</text>
<text x="668.5" y="606" font-family="Liberation Sans" font-size="14" fill="#2a2a2a" text-anchor="middle">M</text>
</svg></body></html>
